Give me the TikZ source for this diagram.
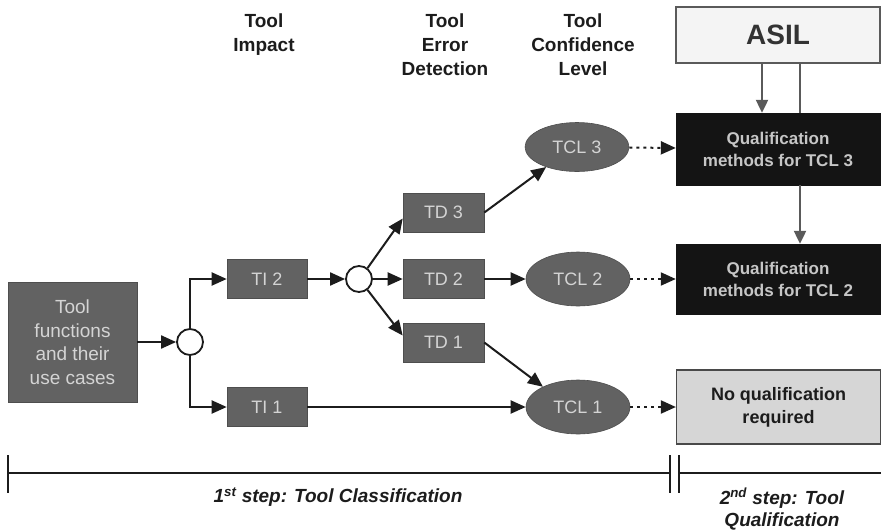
\documentclass[tikz,border=0pt]{standalone}
\usepackage{fontspec}
\setmainfont{Liberation Sans}
\usetikzlibrary{arrows.meta,shapes.geometric,calc}

\definecolor{boxgray}{HTML}{626262}
\definecolor{boxedge}{HTML}{4E4E4E}
\definecolor{boxtext}{HTML}{D4D4D4}
\definecolor{darkbox}{HTML}{141414}
\definecolor{darktext}{HTML}{C6C6C6}
\definecolor{lightbox}{HTML}{F4F4F4}
\definecolor{nqbox}{HTML}{D6D6D6}
\definecolor{linegray}{HTML}{5A5A5A}
\definecolor{ink}{HTML}{1C1C1C}

\begin{document}
\begin{tikzpicture}[x=1pt,y=-1pt,
  graybox/.style={rectangle, fill=boxgray, draw=boxedge, line width=0.6pt,
    text=boxtext, inner sep=0pt, minimum width=80pt, minimum height=39pt,
    font=\fontsize{18}{22}\selectfont},
  srcbox/.style={graybox, minimum width=129pt, minimum height=120pt,
    align=center, font=\fontsize{19}{23.5}\selectfont},
  tclnode/.style={ellipse, fill=boxgray, draw=boxedge, line width=0.6pt,
    text=boxtext, inner sep=0pt, minimum width=104pt, minimum height=54pt,
    font=\fontsize{18}{22}\selectfont},
  junction/.style={circle, draw=ink, fill=white, line width=1.8pt,
    minimum size=26pt, inner sep=0pt},
  flow/.style={draw=ink, line width=2pt, -{Triangle[length=15pt,width=13pt]}},
  dotflow/.style={flow, dash pattern=on 3pt off 4pt},
  header/.style={align=center, text=ink, inner sep=0pt,
    font=\fontsize{19}{24}\selectfont\bfseries},
  qualbox/.style={rectangle, fill=darkbox, draw=darkbox, minimum width=204pt,
    minimum height=72pt, inner sep=0pt, align=center, text=darktext,
    font=\fontsize{17}{22}\selectfont\bfseries},
  asilbox/.style={rectangle, fill=lightbox, draw=linegray, line width=1.2pt,
    minimum width=204pt, minimum height=56pt, inner sep=0pt, text=ink!90,
    font=\fontsize{28}{32}\selectfont\bfseries},
  nqstyle/.style={rectangle, fill=nqbox, draw=ink!80, line width=1.2pt,
    minimum width=204pt, minimum height=74pt, inner sep=0pt, align=center,
    text=ink, font=\fontsize{18}{23}\selectfont\bfseries},
  asilflow/.style={draw=linegray, line width=2.2pt},
  timeline/.style={draw=ink, line width=2.2pt},
  steptext/.style={text=ink, inner sep=0pt, align=center,
    font=\fontsize{19}{22}\selectfont\bfseries\itshape},
]
\useasboundingbox (0,0) rectangle (881,531);
\clip (0,0) rectangle (881,531);

% column headings
\node[header, anchor=north] (hti) at (264,14) {Tool\\Impact};
\node[header, anchor=north] (htd) at (445,14) {Tool\\Error\\Detection};
\node[header, anchor=north] (htcl) at (583,14) {Tool\\Confidence\\Level};

% classification tree
\node[srcbox] (src) at (72.5,342) {Tool\\functions\\and their\\use cases};
\node[junction] (j1) at (190,342) {};
\node[graybox] (ti2) at (267,279) {TI 2};
\node[graybox] (ti1) at (267,407) {TI 1};
\node[junction] (j2) at (359,279) {};
\node[graybox, minimum width=81pt] (td3) at (443.5,212.5) {TD 3};
\node[graybox, minimum width=81pt] (td2) at (443.5,279) {TD 2};
\node[graybox, minimum width=81pt] (td1) at (443.5,342.5) {TD 1};
\node[tclnode, minimum height=49pt] (tcl3) at (577,147) {TCL 3};
\node[tclnode] (tcl2) at (578,279) {TCL 2};
\node[tclnode] (tcl1) at (578,407) {TCL 1};

% qualification column
\node[asilbox] (asil) at (778,35) {ASIL};
\node[qualbox] (q3) at (778,149) {Qualification\\methods for TCL 3};
\node[qualbox, minimum height=70pt] (q2) at (778,279) {Qualification\\methods for TCL 2};
\node[nqstyle] (nq) at (778.5,407) {No qualification\\required};

% connectors of the tree
\draw[flow] (src) -- (j1);
\draw[flow] (j1.north) |- (ti2.west);
\draw[flow] (j1.south) |- (ti1.west);
\draw[flow] (ti2) -- (j2);
\draw[flow] (j2.52) -- ([yshift=-6pt]td3.west);
\draw[flow] (j2) -- (td2);
\draw[flow] (j2.-52) -- ([yshift=7pt]td1.west);
\draw[flow] (td3.east) -- (tcl3.213);
\draw[flow] (td2) -- (tcl2);
\draw[flow] (td1.east) -- (tcl1.150);
\draw[flow] (ti1) -- (tcl1);

% confidence level to qualification
\draw[dotflow] (tcl3) -- (q3);
\draw[dotflow] (tcl2) -- (q2);
\draw[dotflow] (tcl1) -- (nq);

% ASIL influence
\draw[asilflow, -{Triangle[length=13pt,width=12pt]}] ([xshift=-16pt]asil.south) -- ([xshift=-16pt]q3.north);
\draw[asilflow] ([xshift=22pt]asil.south) -- ([xshift=22pt]q3.north);
\draw[asilflow, -{Triangle[length=13pt,width=12pt]}] ([xshift=22pt]q3.south) -- ([xshift=22pt]q2.north);

% step timeline
\coordinate (tl0) at (8,473);
\coordinate (tl1) at (670,473);
\coordinate (tl2) at (679,473);
\coordinate (tl3) at (885,473);
\draw[timeline] (tl0) -- (tl1);
\draw[timeline] (tl2) -- (tl3);
\draw[timeline] ([yshift=18pt]tl0) -- ([yshift=-20pt]tl0);
\draw[timeline] ([yshift=18pt]tl1) -- ([yshift=-20pt]tl1);
\draw[timeline] ([yshift=18pt]tl2) -- ([yshift=-20pt]tl2);

\node[steptext] (step1) at (338,497) {1\textsuperscript{st} step: Tool Classification};
\node[steptext] (step2) at (782,509) {2\textsuperscript{nd} step: Tool\\Qualification};
\end{tikzpicture}
\end{document}
